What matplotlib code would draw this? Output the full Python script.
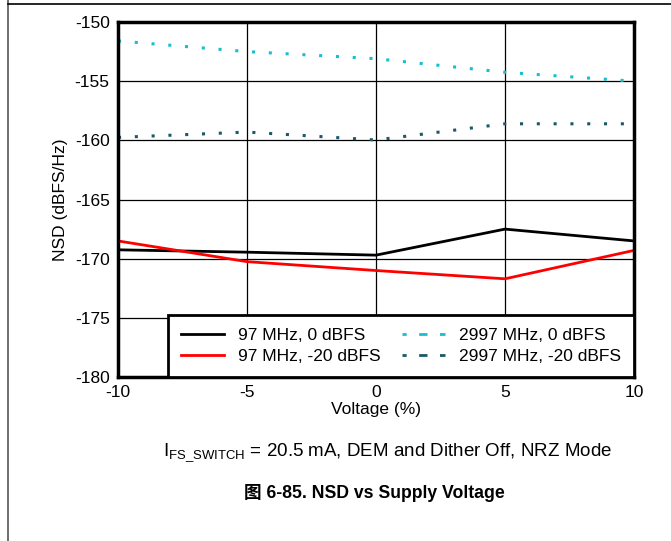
import matplotlib
matplotlib.use('Agg')
from matplotlib import pyplot as plt
from matplotlib.lines import Line2D

plt.rcParams['font.family'] = ['Liberation Sans', 'Noto Sans CJK SC', 'DejaVu Sans']
plt.rcParams['axes.unicode_minus'] = False

voltage = [-10, -5, 0, 5, 10]
nsd_97_0 = [-169.25, -169.45, -169.7, -167.5, -168.5]
nsd_97_20 = [-168.5, -170.25, -171.0, -171.7, -169.3]
nsd_2997_0 = [-151.6, -152.5, -153.1, -154.25, -155.0]
nsd_2997_20 = [-159.75, -159.3, -159.97, -158.6, -158.6]

fig = plt.figure(figsize=(6.71, 5.41), dpi=100)
ax = fig.add_axes([0.1759, 0.3031, 0.7690, 0.6562])

ax.plot(voltage, nsd_97_0, color='black', lw=2, label='97 MHz, 0 dBFS')
ax.plot(voltage, nsd_97_20, color='#ff0000', lw=2, label='97 MHz, -20 dBFS')
ax.plot(voltage, nsd_2997_0, color='#17becf', lw=2.2, ls=(0, (1, 4.5)),
        label='2997 MHz, 0 dBFS')
ax.plot(voltage, nsd_2997_20, color='#1b5868', lw=2.2, ls=(0, (1, 4.5)),
        label='2997 MHz, -20 dBFS')

ax.set_xlim(-10, 10)
ax.set_ylim(-180, -150)
ax.set_xticks([-10, -5, 0, 5, 10])
ax.set_yticks(range(-180, -149, 5))
ax.grid(True, color='black', lw=0.9)
ax.tick_params(length=0, labelsize=12.5, pad=6)
for s in ax.spines.values():
    s.set_linewidth(2.5)
ax.set_xlabel('Voltage (%)', fontsize=12.5, labelpad=1)
ax.set_ylabel('NSD (dBFS/Hz)', fontsize=12.5, labelpad=5)

handles = [Line2D([], [], color='black', lw=2),
           Line2D([], [], color='#ff0000', lw=2),
           Line2D([], [], color='#17becf', lw=2, ls=(1.5, (3, 4.5))),
           Line2D([], [], color='#1b5868', lw=2, ls=(1.5, (3, 4.5)))]
labels = ['97 MHz, 0 dBFS', '97 MHz, -20 dBFS', '2997 MHz, 0 dBFS', '2997 MHz, -20 dBFS']
leg = ax.legend(handles, labels, ncol=2, loc='lower right', fontsize=12.5,
                frameon=True, fancybox=False, edgecolor='black', framealpha=1,
                borderaxespad=0, handlelength=2.5, columnspacing=1.2,
                labelspacing=0.35, borderpad=0.75, handletextpad=0.8)
leg.get_frame().set_linewidth(2)

fig.text(0.578, 0.163, r'I$_{\mathregular{FS\_SWITCH}}$ = 20.5 mA, DEM and Dither Off, NRZ Mode',
         ha='center', va='center', fontsize=13.5)
fig.text(0.558, 0.088, '图 6-85. NSD vs Supply Voltage', ha='center', va='center',
         fontsize=12.7, fontweight='bold')

# page edges
fig.add_artist(Line2D([0.012, 0.012], [0, 1], color='#555555', lw=1.2))
fig.add_artist(Line2D([0.012, 1], [0.9926, 0.9926], color='black', lw=1.2))

fig.savefig('out.png', dpi=100)
